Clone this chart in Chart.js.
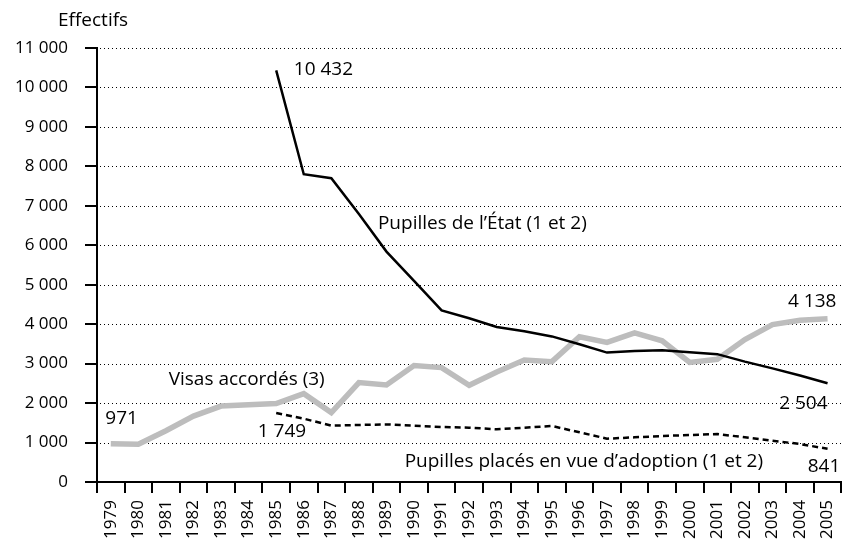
<!DOCTYPE html>
<html>
<head>
<meta charset="utf-8">
<script src="https://cdn.jsdelivr.net/npm/chart.js@4/dist/chart.umd.min.js"></script>
<style>
html, body { margin: 0; padding: 0; background: #fff; }
#wrap { width: 855px; height: 542px; }
</style>
</head>
<body>
<div id="wrap"><canvas id="chart"></canvas></div>
<script>
const YEARS = ['1979','1980','1981','1982','1983','1984','1985','1986','1987','1988','1989','1990','1991','1992',
	'1993','1994','1995','1996','1997','1998','1999','2000','2001','2002','2003','2004','2005'];
const VISAS = [971, 955, 1300, 1670, 1925, 1960, 1990, 2240, 1760, 2520, 2460, 2950, 2900, 2450,
	2790, 3090, 3050, 3680, 3540, 3780, 3580, 3030, 3110, 3610, 3990, 4100, 4138];
const PUPILLES = [null, null, null, null, null, null, 10432, 7800, 7700, 6790, 5840, 5100, 4350, 4150,
	3930, 3820, 3690, 3490, 3280, 3320, 3340, 3290, 3240, 3050, 2880, 2700, 2504];
const PLACES = [null, null, null, null, null, null, 1749, 1605, 1428, 1445, 1460, 1428, 1394, 1377,
	1335, 1377, 1420, 1259, 1098, 1132, 1166, 1191, 1217, 1132, 1047, 963, 841];
const Y_MIN = 0, Y_MAX = 11000, Y_STEP = 1000;

const FONT = '"Open Sans", sans-serif';

function fmt(v) {
	return String(v).replace(/\B(?=(\d{3})+(?!\d))/g, ' ');
}

// text labels, anchored in data units (x = category index, y = value)
const notes = [
	{text: 'Effectifs', px: -39, py: -22, align: 'left'},
	{text: fmt(PUPILLES[6]), x: 6.64, y: 10317, align: 'left'},
	{text: 'Pupilles de l\u2019\u00c9tat (1 et 2)', x: 9.69, y: 6413, align: 'left'},
	{text: 'Visas accord\u00e9s (3)', x: 2.10, y: 2459, align: 'left'},
	{text: fmt(VISAS[0]), x: -0.2, y: 1470, align: 'left'},
	{text: fmt(PLACES[6]), x: 5.33, y: 1149, align: 'left'},
	{text: 'Pupilles plac\u00e9s en vue d\u2019adoption (1 et 2)', x: 10.66, y: 389, align: 'left'},
	{text: fmt(PLACES[26]), x: 26.46, y: 261, align: 'right'},
	{text: fmt(PUPILLES[26]), x: 26.0, y: 1843, align: 'right'},
	{text: fmt(VISAS[26]), x: 26.32, y: 4444, align: 'right'}
];

// dotted horizontal grid, one line per y tick
const dotGrid = {
	id: 'dotGrid',
	beforeDatasetsDraw(chart) {
		const ctx = chart.ctx;
		const ys = chart.scales.y;
		const area = chart.chartArea;
		ctx.save();
		ctx.strokeStyle = '#000';
		ctx.lineWidth = 1;
		ctx.setLineDash([1, 3]);
		ys.ticks.forEach(function(t) {
			if (t.value <= Y_MIN) return;
			const y = Math.round(ys.getPixelForValue(t.value)) + 0.5;
			ctx.beginPath();
			ctx.moveTo(area.left + 3, y);
			ctx.lineTo(area.right, y);
			ctx.stroke();
		});
		ctx.restore();
	}
};

const notesPlugin = {
	id: 'notes',
	afterDatasetsDraw(chart) {
		const ctx = chart.ctx;
		const xs = chart.scales.x, ys = chart.scales.y;
		ctx.save();
		ctx.font = '19px ' + FONT;
		ctx.fillStyle = '#000';
		ctx.textBaseline = 'alphabetic';
		notes.forEach(function(n) {
			let px, py;
			if (n.x === undefined) {
				px = chart.chartArea.left + n.px;
				py = chart.chartArea.top + n.py;
			} else {
				px = xs.getPixelForValue(n.x);
				py = ys.getPixelForValue(n.y);
			}
			ctx.textAlign = n.align;
			ctx.fillText(n.text, px, py);
		});
		ctx.restore();
	}
};

var chart = document.getElementById('chart').getContext('2d');
var myChart = new Chart(chart, {
	type: 'line',
	data: {
		labels: YEARS,
		datasets: [{
			label: 'Pupilles de l\u2019\u00c9tat (1 et 2)',
			data: PUPILLES,
			borderColor: '#000',
			borderWidth: 2.5,
			pointRadius: 0,
			tension: 0
		},
		{
			label: 'Pupilles plac\u00e9s en vue d\u2019adoption (1 et 2)',
			data: PLACES,
			borderColor: '#000',
			borderWidth: 2.5,
			borderDash: [6, 4],
			pointRadius: 0,
			tension: 0
		},
		{
			label: 'Visas accord\u00e9s (3)',
			data: VISAS,
			borderColor: '#bdbdbd',
			borderWidth: 5.5,
			pointRadius: 0,
			tension: 0
		}]
	},
	options: {
		responsive: true,
		maintainAspectRatio: false,
		animation: false,
		layout: {
			padding: {left: 0, top: 48, right: 2, bottom: 0}
		},
		plugins: {
			legend: {display: false},
			tooltip: {enabled: false}
		},
		scales: {
			x: {
				type: 'category',
				offset: true,
				grid: {
					offset: true,
					drawOnChartArea: false,
					color: '#000',
					lineWidth: 2,
					tickLength: 11
				},
				border: {color: '#000', width: 2},
				ticks: {
					color: '#000',
					font: {family: FONT, size: 17},
					minRotation: 90,
					maxRotation: 90,
					autoSkip: false,
					padding: 7
				},
				afterFit: function(scale) { scale.height = 60; }
			},
			y: {
				min: Y_MIN,
				max: Y_MAX,
				grid: {
					drawOnChartArea: false,
					color: '#000',
					lineWidth: 2,
					tickLength: 12
				},
				border: {color: '#000', width: 2},
				ticks: {
					stepSize: Y_STEP,
					color: '#000',
					font: {family: FONT, size: 17},
					padding: 17,
					callback: function(v) { return fmt(v); }
				},
				afterFit: function(scale) { scale.width = 97; }
			}
		}
	},
	plugins: [dotGrid, notesPlugin]
});
</script>
</body>
</html>
